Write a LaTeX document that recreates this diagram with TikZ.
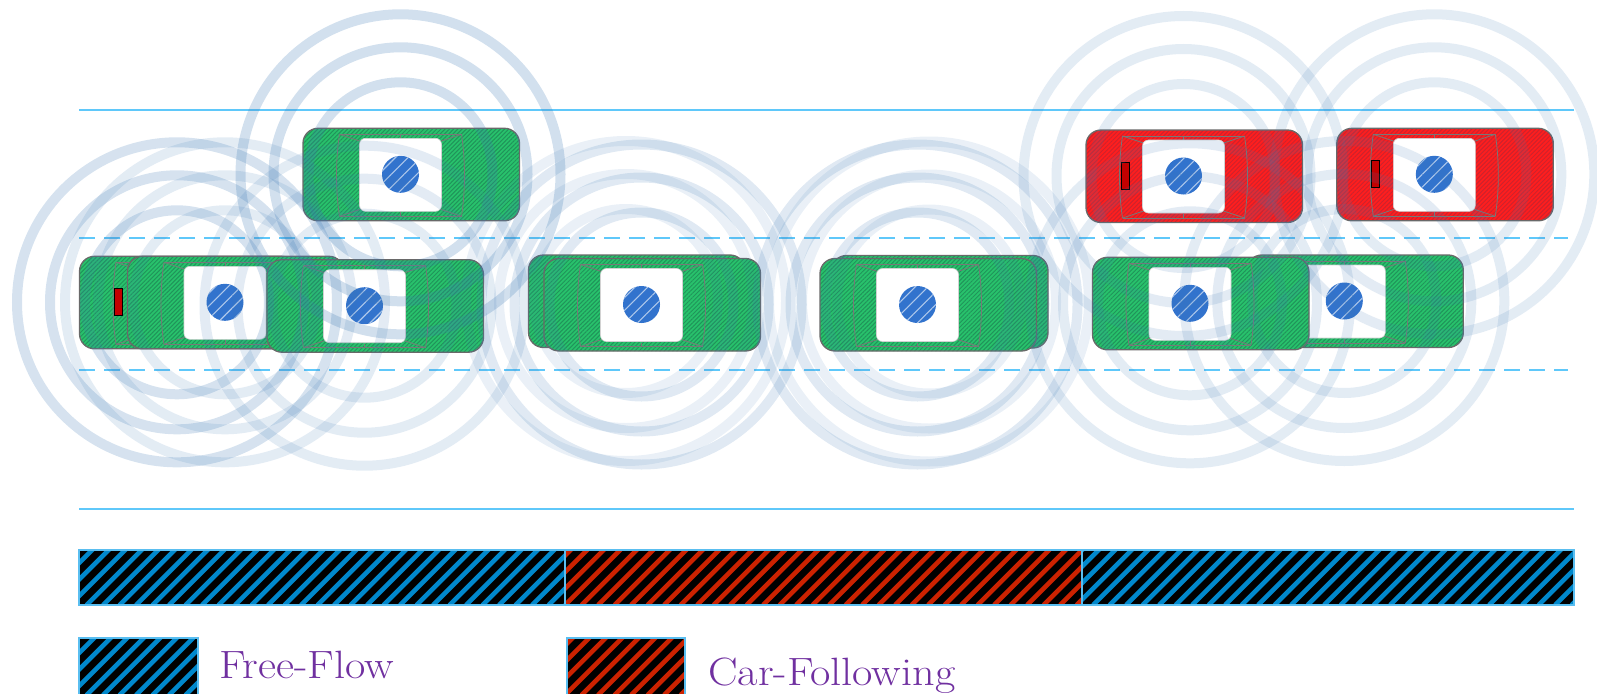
\documentclass[tikz,border=0pt]{standalone}
\usetikzlibrary{patterns.meta}

\definecolor{laneBlue}{RGB}{95,200,250}
\definecolor{carGreen}{RGB}{40,194,108}
\definecolor{carGreenDk}{RGB}{32,148,90}
\definecolor{carRed}{RGB}{255,30,30}
\definecolor{carRedDk}{RGB}{205,35,45}
\definecolor{bodyGray}{RGB}{105,105,105}
\definecolor{trimGray}{RGB}{120,120,120}
\definecolor{winBlue}{RGB}{50,115,205}
\definecolor{winStripe}{RGB}{175,200,235}
\definecolor{lampRed}{RGB}{195,0,0}
\definecolor{ringBlue}{RGB}{60,120,180}
\definecolor{barEdge}{RGB}{90,190,240}
\definecolor{ffBlue}{RGB}{0,136,204}
\definecolor{cfRed}{RGB}{204,34,0}
\definecolor{legendPurple}{RGB}{112,48,160}

\tikzset{
  lane/.style={draw=laneBlue, line width=2.5pt},
  lanedash/.style={lane, dash pattern=on 16pt off 9pt},
  greenbody/.style={preaction={fill=carGreen},
    pattern={Lines[angle=45,distance=3pt,line width=1pt]},
    pattern color=carGreenDk, draw=bodyGray, line width=1.3pt},
  redbody/.style={preaction={fill=carRed},
    pattern={Lines[angle=45,distance=3pt,line width=1pt]},
    pattern color=carRedDk, draw=bodyGray, line width=1.3pt},
  trim/.style={draw=trimGray, line width=0.8pt},
  roof/.style={fill=white, draw=gray!35, line width=0.6pt},
  glass/.style={preaction={fill=winBlue},
    pattern={Lines[angle=45,distance=9pt,line width=1.1pt]},
    pattern color=winStripe},
  lamp/.style={fill=lampRed, draw=black, line width=0.8pt},
  ring/.style={draw=ringBlue, line width=10pt},
  barbox/.style={draw=barEdge, line width=1.3pt},
  stripe/.style={line width=4.6pt},
  legendtext/.style={text=legendPurple, font=\fontsize{39.5}{44}\selectfont,
    inner sep=0pt, anchor=base west, transform shape, xscale=1.12}
}

% one car seen from above, centred on its roof window
\newcommand\vehicle[3]{%
  \begin{scope}[shift={(#1,#2)}]
    \path[#3, rounded corners=15pt] (-97.5,-46) rectangle (119,46.5);
    \draw[trim] (-61,-40) .. controls (-65,-14) and (-65,16) .. (-61,42);
    \draw[trim] (61,-40) .. controls (65,-14) and (65,16) .. (61,42);
    \draw[trim] (-61,-40) -- (61,-40) (-61,42) -- (61,42);
    \draw[trim] (-61,-40) -- (-40,-33) (61,-40) -- (40,-33)
                (-61,42) -- (-40,35) (61,42) -- (40,35);
    \draw[trim] (0,-40) -- (0,-36) (0,42) -- (0,38);
    \path[roof, rounded corners=6pt] (-41,-36) rectangle (41,37);
    \path[glass] (0,0) circle (18.5);
  \end{scope}}

% brake lamp near the rear of a car
\newcommand\taillamp[2]{%
  \begin{scope}[shift={(#1,#2)}]
    \path[lamp] (-62.5,-13.5) rectangle (-54.5,13.5);
  \end{scope}}

% three radio rings around a car
\newcommand\waves[3]{%
  \draw[ring, draw opacity=#3] (#1,#2) circle (92) circle (127) circle (160);}

% black box with coloured diagonal stripes: x1, y1 (top), x2, y2 (bottom), colour
\newcommand\hatchbox[5]{%
  \begin{scope}
    \clip (#1,#2) rectangle (#3,#4);
    \fill[black] (#1,#2) rectangle (#3,#4);
    \foreach \s in {4,20.5,...,1600}
      \draw[stripe, #5] (\s,#4) -- ++(62,-62);
  \end{scope}}

\begin{document}
\begin{tikzpicture}[x=1pt,y=-1pt]
\useasboundingbox (0,0) rectangle (1597,693);

% road markings
\draw[lane] (79,110) -- (1574,110);
\draw[lanedash] (79,238) -- (1568,238);
\draw[lanedash] (79,370) -- (1568,370);
\draw[lane] (79,509) -- (1574,509);

% upper lane
\vehicle{400.5}{174.3}{greenbody}
\vehicle{1183.5}{176}{redbody}
\taillamp{1183.5}{176}
\vehicle{1434.3}{174.3}{redbody}
\taillamp{1434.3}{174.3}

% lower lane
\vehicle{177}{302.3}{greenbody}
\taillamp{177}{302.3}
\vehicle{225}{302.3}{greenbody}
\vehicle{364.5}{305.7}{greenbody}
\vehicle{626}{301}{greenbody}
\vehicle{641.5}{304.5}{greenbody}
\vehicle{929}{301.5}{greenbody}
\vehicle{917.5}{304.5}{greenbody}
\vehicle{1344.3}{301}{greenbody}
\vehicle{1190}{303.3}{greenbody}

% communication ranges
\waves{400.5}{174.3}{0.23}
\waves{177}{302.3}{0.21}
\waves{225}{302.3}{0.14}
\waves{364.5}{305.7}{0.14}
\waves{626}{301}{0.11}
\waves{641.5}{304.5}{0.16}
\waves{929}{301.5}{0.11}
\waves{917.5}{304.5}{0.16}
\waves{1190}{303.3}{0.14}
\waves{1344.3}{301}{0.14}
\waves{1183.5}{176}{0.14}
\waves{1434.3}{174.3}{0.14}

% regime bar
\hatchbox{79}{550}{565}{605}{ffBlue}
\hatchbox{565}{550}{1082}{605}{cfRed}
\hatchbox{1082}{550}{1574}{605}{ffBlue}
\draw[barbox] (79,550) rectangle (565,605);
\draw[barbox] (565,550) rectangle (1082,605);
\draw[barbox] (1082,550) rectangle (1574,605);

% legend
\hatchbox{79}{638}{198}{695}{ffBlue}
\draw[barbox] (79,695) -- (79,638) -- (198,638) -- (198,695);
\node[legendtext] (ff) at (219,678) {Free-Flow};
\hatchbox{567}{638}{685}{695}{cfRed}
\draw[barbox] (567,695) -- (567,638) -- (685,638) -- (685,695);
\node[legendtext] (cf) at (708,685) {Car-Following};
\end{tikzpicture}
\end{document}
